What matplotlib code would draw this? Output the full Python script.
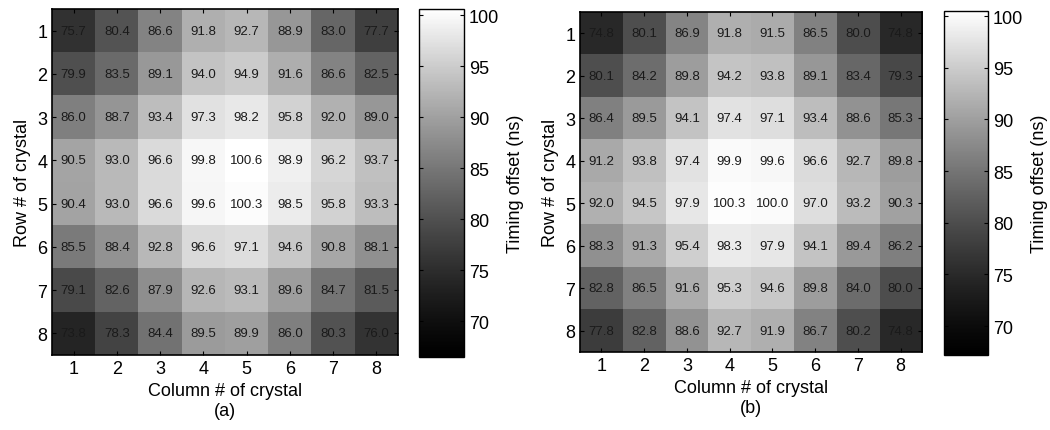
import numpy as np
import matplotlib
matplotlib.use("Agg")
import matplotlib.pyplot as plt
from matplotlib.colors import ListedColormap

plt.rcParams['font.family'] = ['Liberation Sans', 'DejaVu Sans']

rows = [1, 2, 3, 4, 5, 6, 7, 8]
cols = [1, 2, 3, 4, 5, 6, 7, 8]

# timing offsets (ns), panel (a)
offset_a = np.array([
    [75.7, 80.4, 86.6, 91.8, 92.7, 88.9, 83.0, 77.7],
    [79.9, 83.5, 89.1, 94.0, 94.9, 91.6, 86.6, 82.5],
    [86.0, 88.7, 93.4, 97.3, 98.2, 95.8, 92.0, 89.0],
    [90.5, 93.0, 96.6, 99.8, 100.6, 98.9, 96.2, 93.7],
    [90.4, 93.0, 96.6, 99.6, 100.3, 98.5, 95.8, 93.3],
    [85.5, 88.4, 92.8, 96.6, 97.1, 94.6, 90.8, 88.1],
    [79.1, 82.6, 87.9, 92.6, 93.1, 89.6, 84.7, 81.5],
    [73.8, 78.3, 84.4, 89.5, 89.9, 86.0, 80.3, 76.0],
])

# timing offsets (ns), panel (b)
offset_b = np.array([
    [74.8, 80.1, 86.9, 91.8, 91.5, 86.5, 80.0, 74.8],
    [80.1, 84.2, 89.8, 94.2, 93.8, 89.1, 83.4, 79.3],
    [86.4, 89.5, 94.1, 97.4, 97.1, 93.4, 88.6, 85.3],
    [91.2, 93.8, 97.4, 99.9, 99.6, 96.6, 92.7, 89.8],
    [92.0, 94.5, 97.9, 100.3, 100.0, 97.0, 93.2, 90.3],
    [88.3, 91.3, 95.4, 98.3, 97.9, 94.1, 89.4, 86.2],
    [82.8, 86.5, 91.6, 95.3, 94.6, 89.8, 84.0, 80.0],
    [77.8, 82.8, 88.6, 92.7, 91.9, 86.7, 80.2, 74.8],
])

cbar_ticks = [70, 75, 80, 85, 90, 95, 100]

# grey ramp, a bit darker in the middle like the printed figure
g = np.linspace(0, 1, 256) ** 1.25
grey = ListedColormap(np.column_stack([g, g, g]))

fig = plt.figure(figsize=(10.5, 4.31), dpi=100)

panels = [
    (offset_a, "(a)", [52, 10, 398, 356], [419, 10, 464, 358], (66.5, 100.6)),
    (offset_b, "(b)", [580, 13, 922, 353], [944, 12, 988, 356], (67.2, 100.5)),
]

W, H = 1050, 431

def frac(box):
    x0, y0, x1, y1 = box
    return [x0 / W, 1 - y1 / H, (x1 - x0) / W, (y1 - y0) / H]

for data, tag, abox, cbox, (vmin, vmax) in panels:
    ax = fig.add_axes(frac(abox))
    im = ax.imshow(data, cmap=grey, vmin=vmin, vmax=vmax, aspect='auto',
                   extent=[0.5, 8.5, 8.5, 0.5], interpolation='nearest')
    for i, r in enumerate(rows):
        for j, c in enumerate(cols):
            ax.text(c, r, f"{data[i, j]:.1f}", ha='center', va='center',
                    fontsize=9.5, color='#1a1a1a')
    ax.set_xticks(cols)
    ax.set_yticks(rows)
    ax.tick_params(direction='in', top=True, right=True, length=3,
                   labelsize=13, width=0.8)
    for s in ax.spines.values():
        s.set_linewidth(1.2)
    ax.set_xlabel("Column # of crystal\n" + tag, fontsize=13, labelpad=4,
                  linespacing=1.2)
    ax.set_ylabel("Row # of crystal", fontsize=13, labelpad=4)

    cax = fig.add_axes(frac(cbox))
    cb = fig.colorbar(im, cax=cax)
    cb.set_ticks(cbar_ticks)
    cax.tick_params(direction='in', left=True, right=True, length=3,
                    labelsize=13, width=0.8)
    cb.outline.set_linewidth(1.0)
    cb.set_label("Timing offset (ns)", fontsize=13, labelpad=6)

fig.savefig("out.png", dpi=100)
